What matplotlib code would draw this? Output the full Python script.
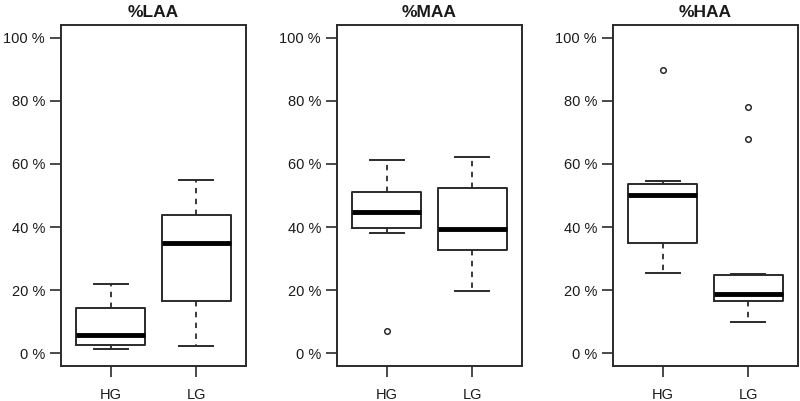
import matplotlib
matplotlib.use("Agg")
import matplotlib.pyplot as plt
from matplotlib.ticker import FuncFormatter

plt.rcParams["font.family"] = ["Liberation Sans", "DejaVu Sans"]

# --- Data (percent) ---
titles = ["%LAA", "%MAA", "%HAA"]
groups = ["HG", "LG"]

# per panel: [HG, LG]
whislo = [[1.3, 2.3], [38.2, 19.9], [25.5, 9.9]]
q1 = [[2.8, 16.7], [39.7, 32.7], [35.1, 16.6]]
med = [[5.9, 35.0], [44.8, 39.4], [50.1, 18.9]]
q3 = [[14.4, 43.8], [51.0, 52.4], [53.6, 24.9]]
whishi = [[22.1, 55.0], [61.1, 62.1], [54.5, 25.2]]
fliers = [[[], []], [[7.2], []], [[89.9], [78.0, 68.0]]]

LINE = "#2b2b2b"
TEXT = "#1a1a1a"

fig = plt.figure(figsize=(8, 4.01), dpi=100)
lefts = [61 / 800, 337 / 800, 613 / 800]
width = 185 / 800
bottom = 35 / 401
height = 341 / 401

for p in range(3):
    ax = fig.add_axes([lefts[p], bottom, width, height])
    stats = []
    for g in range(2):
        stats.append(dict(
            label=groups[g], whislo=whislo[p][g], q1=q1[p][g], med=med[p][g],
            q3=q3[p][g], whishi=whishi[p][g], fliers=fliers[p][g],
        ))
    ax.bxp(
        stats, positions=[1, 2], widths=0.8, showfliers=True,
        boxprops=dict(color=LINE, linewidth=1.4),
        medianprops=dict(color="black", linewidth=3.5, solid_capstyle="butt"),
        whiskerprops=dict(color=LINE, linewidth=1.3, linestyle=(0, (3, 3))),
        capprops=dict(color=LINE, linewidth=1.4),
        flierprops=dict(marker="o", markersize=4, markerfacecolor="none",
                        markeredgecolor=LINE, markeredgewidth=1.1),
        capwidths=0.4,
    )
    ax.set_xlim(0.42, 2.58)
    ax.set_ylim(-4, 104)
    ax.set_yticks([0, 20, 40, 60, 80, 100])
    ax.yaxis.set_major_formatter(FuncFormatter(lambda v, pos: f"{v:.0f} %"))
    ax.set_xticks([1, 2])
    ax.set_xticklabels(groups)
    ax.tick_params(axis="both", colors=LINE, labelcolor=TEXT, labelsize=10.5,
                   length=8, width=1.2)
    ax.tick_params(axis="x", pad=8)
    for s in ax.spines.values():
        s.set_color(LINE)
        s.set_linewidth(1.4)
    ax.set_title(titles[p], fontsize=12.5, fontweight="bold", color=TEXT, pad=6)

fig.savefig("out.png", dpi=100)
